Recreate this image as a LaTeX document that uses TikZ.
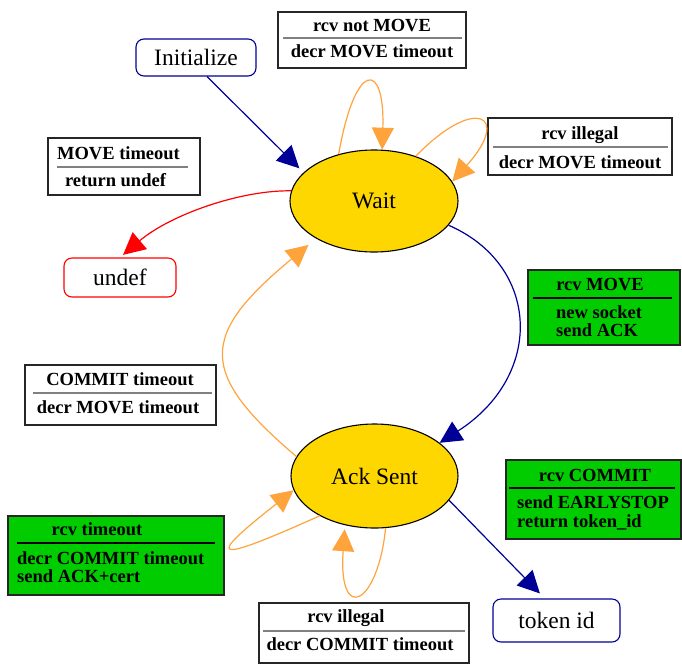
\documentclass[tikz,border=0pt]{standalone}
\usepackage{fontspec}
\setmainfont{Liberation Serif}
\usetikzlibrary{shapes.geometric,arrows.meta}
\definecolor{navyE}{RGB}{0,0,150}
\definecolor{orangeE}{RGB}{255,163,60}
\definecolor{goldE}{RGB}{255,215,0}
\definecolor{greenE}{RGB}{0,204,0}
\newcommand{\statefont}{\fontsize{23.5}{28}\selectfont}
\newcommand{\guardfont}{\fontsize{18.5}{20}\selectfont\bfseries}

\begin{document}
\begin{tikzpicture}[x=1pt,y=-1pt,
	state/.style={ellipse,draw=black,line width=1.1pt,fill=goldE,inner sep=0,font=\statefont},
	term/.style={rectangle,rounded corners=8pt,line width=1.1pt,inner sep=0,font=\statefont},
	guard/.style={rectangle,draw=black!85,line width=1.1pt,inner sep=0},
	gtxt/.style={inner sep=0,anchor=base,font=\guardfont},
	gline/.style={inner sep=0,anchor=base west,font=\guardfont},
	sepline/.style={draw=black!50,line width=1.3pt},
	trans/.style={line width=1.2pt,-{Triangle[length=22pt,width=22pt]}}]
	\useasboundingbox (0,0) rectangle (682,664);

	% states
	\node[term,draw=navyE,minimum width=120,minimum height=37]
		(init) at (196,57.5) {Initialize};
	\node[state,minimum width=168,minimum height=102]
		(wait) at (374,201) {Wait};
	\node[state,minimum width=167,minimum height=104]
		(ack) at (374.5,476) {Ack Sent};
	\node[term,draw=red,minimum width=112,minimum height=39]
		(undef) at (120,277.5) {undef};
	\node[term,draw=navyE,minimum width=127,minimum height=43]
		(token) at (556.5,620.5) {token id};

	% guard boxes
	\node[guard,minimum width=188,minimum height=56] (gNotMove) at (372,40) {};
	\draw[sepline] (283,38) -- (462,38);
	\node[gtxt] (gNotMoveA) at (372,31.5) {rcv not MOVE};
	\node[gtxt] (gNotMoveB) at (372,57.5) {decr MOVE timeout};

	\node[guard,minimum width=184,minimum height=57] (gIllegalW) at (580,146.5) {};
	\draw[sepline] (493,147) -- (668,147);
	\node[gtxt] (gIllegalWA) at (580,139) {rcv illegal};
	\node[gtxt] (gIllegalWB) at (580,168) {decr MOVE timeout};

	\node[guard,minimum width=152,minimum height=57] (gMoveTo) at (124,166.5) {};
	\draw[sepline] (57,167) -- (188,167);
	\node[gtxt] (gMoveToA) at (118.5,159.3) {MOVE timeout};
	\node[gtxt] (gMoveToB) at (115.5,186.7) {return undef};

	\node[guard,minimum width=191,minimum height=60] (gCommitTo) at (120.5,395) {};
	\draw[sepline] (33,393) -- (212,393);
	\node[gtxt] (gCommitToA) at (120,385) {COMMIT timeout};
	\node[gtxt] (gCommitToB) at (118,413) {decr MOVE timeout};

	\node[guard,fill=greenE,minimum width=216,minimum height=79] (gTimeout) at (116,555.5) {};
	\draw[sepline,draw=black] (17,543) -- (215,543);
	\node[gtxt] (gTimeoutA) at (97,535.7) {rcv timeout};
	\node[gline] (gTimeoutB) at (17,564) {decr COMMIT timeout};
	\node[gline] (gTimeoutC) at (17,582.3) {send ACK+cert};

	\node[guard,fill=greenE,minimum width=152,minimum height=75] (gMove) at (604,307.5) {};
	\draw[sepline,draw=black] (533,298) -- (672,298);
	\node[gtxt] (gMoveA) at (600,290.7) {rcv MOVE};
	\node[gline] (gMoveB) at (556,318.3) {new socket};
	\node[gline] (gMoveC) at (556,336.7) {send ACK};

	\node[guard,fill=greenE,minimum width=175,minimum height=79] (gCommit) at (593.5,499.5) {};
	\draw[sepline,draw=black] (509,488) -- (675,488);
	\node[gtxt] (gCommitA) at (595,481) {rcv COMMIT};
	\node[gline] (gCommitB) at (517,508.3) {send EARLYSTOP};
	\node[gline] (gCommitC) at (517,527.7) {return token\_id};

	\node[guard,minimum width=210,minimum height=60] (gIllegalA) at (364,633) {};
	\draw[sepline] (263,631) -- (465,631);
	\node[gtxt] (gIllegalAA) at (346,622.7) {rcv illegal};
	\node[gtxt] (gIllegalAB) at (360,650.7) {decr COMMIT timeout};

	% transitions
	\draw[trans,navyE,shorten >=6pt] (init.-60) -- (wait.158);
	\draw[trans,orangeE] (wait.127) .. controls (355,60) and (385,60) .. (wait.81);
	\draw[trans,orangeE] (wait.47) .. controls (475,95) and (512,115) .. (wait.14);
	\draw[trans,red,shorten >=4pt]
		(wait.173) .. controls (240,190) and (170,215) .. (undef.north);
	\draw[trans,navyE] (wait.-18) .. controls (540,265) and (545,375) .. (ack.27);
	\draw[trans,orangeE,shorten >=10pt]
		(ack.166) .. controls (197,372) and (200,335) .. (wait.213);
	\draw[trans,orangeE] (ack.216) .. controls (210,565) and (205,560) .. (ack.190);
	\draw[trans,orangeE,shorten >=4pt]
		(ack.-78) .. controls (378,605) and (338,625) .. (ack.-121);
	\draw[trans,navyE,shorten >=7pt] (ack.-18) -- (token.118);
\end{tikzpicture}
\end{document}
